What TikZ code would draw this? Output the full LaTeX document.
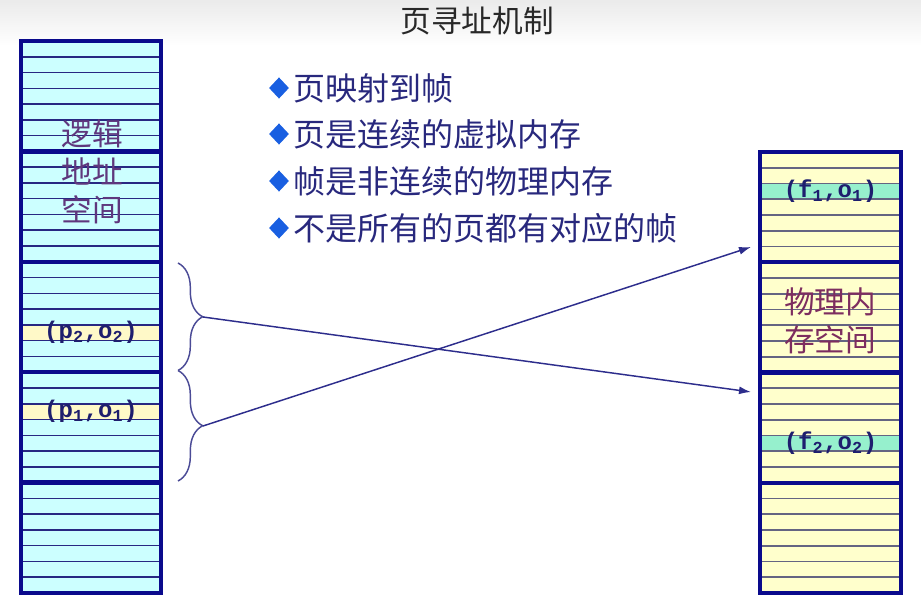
\documentclass[tikz,border=0pt]{standalone}
\usepackage{fontspec}
\setmonofont{Liberation Mono}
\newfontfamily\cjk{Noto Sans CJK SC}
\usetikzlibrary{arrows.meta}
\usetikzlibrary{decorations.pathreplacing}
\usetikzlibrary{shapes.geometric}
\usetikzlibrary{positioning}
\usetikzlibrary{calc}

\definecolor{pagecyan}{RGB}{204,255,255}
\definecolor{framecream}{RGB}{255,255,204}
\definecolor{hiyellow}{RGB}{255,249,200}
\definecolor{higreen}{RGB}{150,240,205}
\definecolor{frameblue}{RGB}{10,10,140}
\definecolor{rowblue}{RGB}{40,40,130}
\definecolor{rowgray}{RGB}{100,100,130}
\definecolor{addrnavy}{RGB}{30,30,110}
\definecolor{logicpurple}{RGB}{95,55,125}
\definecolor{physplum}{RGB}{125,45,95}
\definecolor{textnavy}{RGB}{40,40,125}
\definecolor{bulletblue}{RGB}{25,95,225}
\definecolor{bracecol}{RGB}{75,75,150}
\definecolor{arrowcol}{RGB}{45,45,140}
\definecolor{titlegray}{RGB}{40,40,40}

\begin{document}
\begin{tikzpicture}[x=0.75pt,y=0.75pt,yscale=-1,xscale=1,
  pagecell/.style={rectangle,inner sep=0pt,outer sep=0pt,minimum width=105pt,minimum height=82.8pt,fill=pagecyan},
  framecell/.style={rectangle,inner sep=0pt,outer sep=0pt,minimum width=105.75pt,minimum height=82.69pt,fill=framecream},
  rowline/.style={line width=1.15pt},
  cellframe/.style={draw=frameblue,line width=3.2pt},
  addr/.style={font=\ttfamily\bfseries\fontsize{18}{20}\selectfont,text=addrnavy,inner sep=0pt},
  areatext/.style={font=\cjk\fontsize{23}{28.5}\selectfont,align=center,inner sep=0pt},
  bullet/.style={diamond,fill=bulletblue,minimum width=15pt,minimum height=16pt,inner sep=0pt},
  item/.style={font=\cjk\fontsize{24}{28}\selectfont,text=textnavy,inner sep=0pt},
  pagebrace/.style={draw=bracecol,line width=1.1pt,decorate,decoration={brace,amplitude=18.5pt}},
  maparrow/.style={draw=arrowcol,line width=1.1pt,-{Latex[length=9pt,width=6pt]}}
]
\useasboundingbox (0,0) rectangle (921,605);
\shade[top color=black!8,bottom color=white] (0,0) rectangle (921,46);

% title
\node[font=\cjk\fontsize{23}{26}\selectfont,text=titlegray] (title) at (477,21) {页寻址机制};

% logical address space: 5 pages
\foreach \i in {0,...,4}
  \node[pagecell] (L\i) at (91,{96.2+110.4*\i}) {};
% physical memory: 4 frames
\foreach \i in {0,...,3}
  \node[framecell] (R\i) at (830.5,{207.125+110.25*\i}) {};

% highlighted rows
\fill[hiyellow] ($(L2.north west)!4/7!(L2.south west)$) rectangle ($(L2.north east)!5/7!(L2.south east)$);
\fill[hiyellow] ($(L3.north west)!2/7!(L3.south west)$) rectangle ($(L3.north east)!3/7!(L3.south east)$);
\fill[higreen] ($(R0.north west)!2/7!(R0.south west)$) rectangle ($(R0.north east)!3/7!(R0.south east)$);
\fill[higreen] ($(R2.north west)!4/7!(R2.south west)$) rectangle ($(R2.north east)!5/7!(R2.south east)$);

% rows
\foreach \i in {0,...,4}
  \foreach \k in {1,...,6}
    \draw[rowline,draw=rowblue] ($(L\i.north west)!\k/7!(L\i.south west)$) -- ($(L\i.north east)!\k/7!(L\i.south east)$);
\foreach \i in {0,...,3}
  \foreach \k in {1,...,6}
    \draw[rowline,draw=rowgray] ($(R\i.north west)!\k/7!(R\i.south west)$) -- ($(R\i.north east)!\k/7!(R\i.south east)$);

% frames
\foreach \i in {0,...,4}
  \draw[cellframe] (L\i.north west) rectangle (L\i.south east);
\foreach \i in {0,...,3}
  \draw[cellframe] (R\i.north west) rectangle (R\i.south east);

% texts in the columns
\node[areatext,text=logicpurple] (logical) at (92,172) {逻辑\\地址\\空间};
\node[areatext,text=physplum] (physical) at (830,321) {物理内\\存空间};
\node[addr] (p2o2) at ($(L2.north)!4.5/7!(L2.south)$) {(p\textsubscript{2},o\textsubscript{2})};
\node[addr] (p1o1) at ($(L3.north)!2.5/7!(L3.south)$) {(p\textsubscript{1},o\textsubscript{1})};
\node[addr] (f1o1) at ($(R0.north)!2.5/7!(R0.south)$) {(f\textsubscript{1},o\textsubscript{1})};
\node[addr] (f2o2) at ($(R2.north)!4.5/7!(R2.south)$) {(f\textsubscript{2},o\textsubscript{2})};

% bullet list
\node[bullet] (d1) at (279,88) {};
\node[item,right=3pt of d1] (b1) {页映射到帧};
\node[bullet] (d2) at (279,134) {};
\node[item,right=3pt of d2] (b2) {页是连续的虚拟内存};
\node[bullet] (d3) at (279,181) {};
\node[item,right=3pt of d3] (b3) {帧是非连续的物理内存};
\node[bullet] (d4) at (279,228) {};
\node[item,right=3pt of d4] (b4) {不是所有的页都有对应的帧};

% braces and mapping
\coordinate (u0) at (178,263);
\coordinate (u1) at (178,370.5);
\coordinate (u2) at (178,481);
\draw[pagebrace] (u0) -- (u1);
\draw[pagebrace] (u1) -- (u2);
\coordinate (t2) at (203,317);
\coordinate (t1) at (203,426);
\coordinate (e1) at (751,247);
\coordinate (e2) at (751,392);
\draw[maparrow] (t2) -- (e2);
\draw[maparrow] (t1) -- (e1);
\end{tikzpicture}
\end{document}
